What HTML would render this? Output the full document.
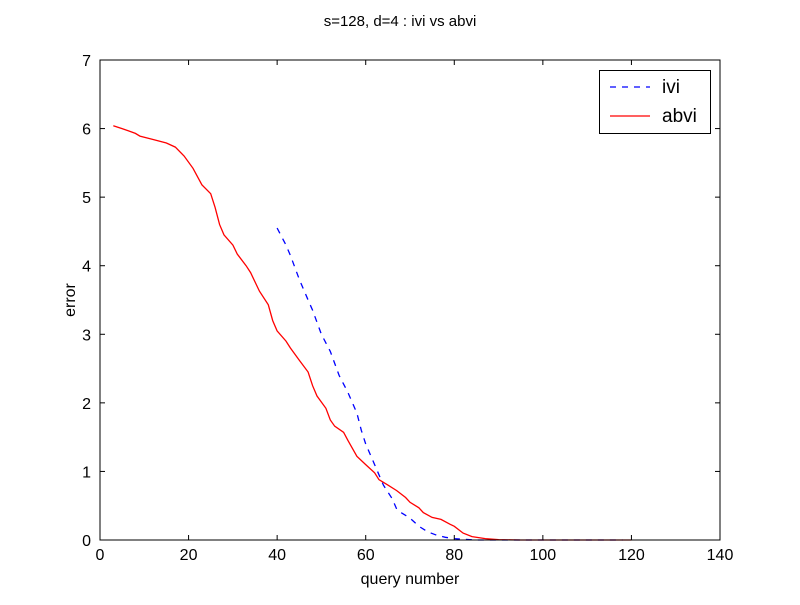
<!DOCTYPE html>
<html><head><meta charset="utf-8"><style>
body{margin:0;background:#fff;}
svg text{font-family:"Liberation Sans",sans-serif;}
</style></head><body>
<svg id="chart" width="800" height="600">
<rect width="800" height="600" fill="#fff"/>
<text x="400" y="26" text-anchor="middle" font-size="15">s=128, d=4 : ivi vs abvi</text>
<g id="plot"></g>
<text x="410" y="584" text-anchor="middle" font-size="16">query number</text>
<text transform="translate(75,300) rotate(-90)" text-anchor="middle" font-size="16">error</text>
<g>
<rect x="599.5" y="70.5" width="111" height="63" fill="#fff" stroke="#000"/>
<line x1="610" y1="87" x2="650" y2="87" stroke="#00f" stroke-dasharray="6,6" stroke-width="1.3"/>
<text x="662" y="93" font-size="19">ivi</text>
<line x1="610" y1="116" x2="650" y2="116" stroke="#f00" stroke-width="1.3"/>
<text x="662" y="122" font-size="19">abvi</text>
</g>
</svg>
<script>
const xTicks=[0,20,40,60,80,100,120,140];
const yTicks=[0,1,2,3,4,5,6,7];
const abviX=[3,5,8,9,12,15,17,19,21,23,25,26,27,28,30,31,33,34,36,38,39,40,42,43,45,47,48,49,51,52,53,55,56,58,60,62,63,65,67,69,70,72,73,75,77,79,80,82,84,87,90,95,120];
const abviY=[6.04,6.0,5.93,5.89,5.84,5.79,5.73,5.6,5.42,5.18,5.05,4.85,4.6,4.45,4.3,4.17,4.0,3.9,3.63,3.43,3.2,3.05,2.9,2.8,2.62,2.45,2.25,2.1,1.92,1.75,1.66,1.57,1.45,1.22,1.1,0.98,0.88,0.8,0.72,0.62,0.55,0.47,0.4,0.33,0.3,0.23,0.2,0.1,0.05,0.02,0.005,0,0];
const iviX=[40,42,43,45,47,48,50,52,54,56,58,59,60,62,64,66,67,68,70,72,74,76,78,80,82,85,118];
const iviY=[4.55,4.3,4.15,3.8,3.5,3.35,3.0,2.75,2.4,2.15,1.85,1.6,1.4,1.1,0.8,0.6,0.45,0.4,0.32,0.2,0.12,0.07,0.04,0.02,0.01,0,0];
const L=100,R=720,T=60,B=540;
const sx=v=>L+(v-0)/140*(R-L);
const sy=v=>B-(v-0)/7*(B-T);
const NS='http://www.w3.org/2000/svg';
const g=document.getElementById('plot');
function mk(t,a){const e=document.createElementNS(NS,t);for(const k in a)e.setAttribute(k,a[k]);g.appendChild(e);return e;}
function path(xs,ys,col,dash,name){
  const d=xs.map((x,i)=>(i?'L':'M')+sx(x).toFixed(1)+','+sy(ys[i]).toFixed(1)).join('');
  const p=mk('path',{d:d,fill:'none',stroke:col,'stroke-width':1.3});
  if(dash)p.setAttribute('stroke-dasharray',dash);
  
  
}
path(iviX,iviY,'#00f','6,6','ivi-line');
path(abviX,abviY,'#f00',null,'abvi-line');
xTicks.forEach(v=>{
  const x=sx(v);
  mk('line',{x1:x,y1:B,x2:x,y2:B-5,stroke:'#000'});
  mk('line',{x1:x,y1:T,x2:x,y2:T+5,stroke:'#000'});
  const t=mk('text',{x:x,y:B+20,'text-anchor':'middle','font-size':16});
  t.textContent=v;
  
  
});
yTicks.forEach(v=>{
  const y=sy(v);
  mk('line',{x1:L,y1:y,x2:L+5,y2:y,stroke:'#000'});
  mk('line',{x1:R,y1:y,x2:R-5,y2:y,stroke:'#000'});
  const t=mk('text',{x:L-9,y:y+6,'text-anchor':'end','font-size':16});
  t.textContent=v;
  
  
});
const fr=mk('rect',{x:L,y:T,width:R-L,height:B-T,fill:'none',stroke:'#000','stroke-width':1});


</script>
</body></html>
